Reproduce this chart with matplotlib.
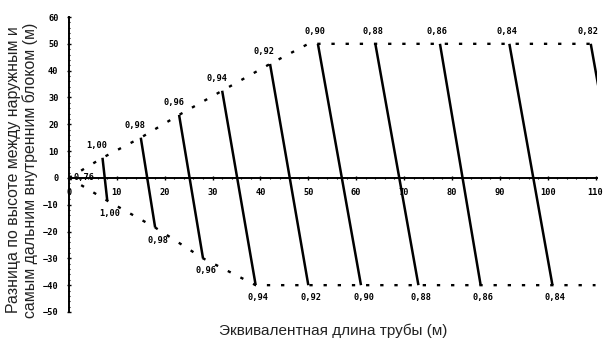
import matplotlib.pyplot as plt
from matplotlib.ticker import MultipleLocator

# correction factor isolines: upper end point -> lower end point
factors = [1.00, 0.98, 0.96, 0.94, 0.92, 0.90, 0.88, 0.86, 0.84, 0.82]
upper_x = [7, 15, 23, 32, 42, 52, 64, 77.5, 92, 109]
upper_y = [7.5, 15, 23.5, 32.5, 42.5, 50, 50, 50, 50, 50]
lower_x = [8, 18, 28, 39, 50, 61, 73, 86, 101, 118]
lower_y = [-8.5, -18.5, -30, -40, -40, -40, -40, -40, -40, -40]

# dotted envelope of the allowed region
upper_edge_x = [0, 7, 15, 23, 32, 42, 50, 110]
upper_edge_y = [0, 7.5, 15, 23.5, 32.5, 42.5, 50, 50]
lower_edge_x = [0, 8, 18, 28, 39, 110]
lower_edge_y = [0, -8.5, -18.5, -30, -40, -40]

x_ticks = [0, 10, 20, 30, 40, 50, 60, 70, 80, 90, 100, 110]
y_ticks = [-50, -40, -30, -20, -10, 0, 10, 20, 30, 40, 50, 60]

small = dict(family='DejaVu Sans Mono', weight='bold', fontsize=6.2)

fig = plt.figure(figsize=(6.03, 3.40), dpi=100)
ax = fig.add_axes([0.1144, 0.0824, 0.8756, 0.8676])

dots = (0, (1.4, 4.6))
ax.plot(upper_edge_x, upper_edge_y, color='black', lw=1.7, ls=dots)
ax.plot(lower_edge_x, lower_edge_y, color='black', lw=1.7, ls=dots)

for f, ux, uy, lx, ly in zip(factors, upper_x, upper_y, lower_x, lower_y):
    ax.plot([ux, lx], [uy, ly], color='black', lw=1.8, solid_capstyle='butt')
    lab = f'{f:.2f}'.replace('.', ',')
    if uy < 50:
        ax.annotate(lab, (ux, uy), xytext=(-4, 9), textcoords='offset points',
                    ha='center', va='center', **small)
    else:
        ax.annotate(lab, (ux, uy), xytext=(-2, 9), textcoords='offset points',
                    ha='center', va='center', **small)
    if lx <= 110:
        ax.annotate(lab, (lx, ly), xytext=(2, -9), textcoords='offset points',
                    ha='center', va='center', **small)

ax.text(3.2, 0, '0,76', ha='center', va='center', **small)

ax.set_xlim(0, 110.3)
ax.set_ylim(-50, 60)

for s in ['top', 'right']:
    ax.spines[s].set_visible(False)
ax.spines['left'].set_position(('data', 0))
ax.spines['bottom'].set_position(('data', 0))
ax.spines['left'].set_linewidth(1.4)
ax.spines['bottom'].set_linewidth(1.4)

ax.set_xticks(x_ticks)
ax.set_yticks(y_ticks)
ax.xaxis.set_minor_locator(MultipleLocator(2))
ax.yaxis.set_minor_locator(MultipleLocator(2))
ax.tick_params(axis='both', which='major', direction='inout', length=3, width=1)
ax.tick_params(axis='both', which='minor', direction='inout', length=2, width=0.8)
ax.tick_params(axis='x', pad=6)
ax.tick_params(axis='y', pad=6)
for t in ax.get_xticklabels() + ax.get_yticklabels():
    t.set_fontfamily('DejaVu Sans Mono')
    t.set_fontweight('bold')
    t.set_fontsize(6.2)

fig.text(0.553, 0.028, 'Эквивалентная длина трубы (м)', ha='center', va='center',
         family='Liberation Sans', fontsize=11, color='#222222')
fig.text(0.037, 0.5, 'Разница по высоте между наружным и\nсамым дальним внутренним блоком (м)',
         ha='center', va='center', rotation=90, family='Liberation Sans',
         fontsize=11.4, linespacing=1.1, color='#222222')

fig.savefig('out.png', dpi=100)
